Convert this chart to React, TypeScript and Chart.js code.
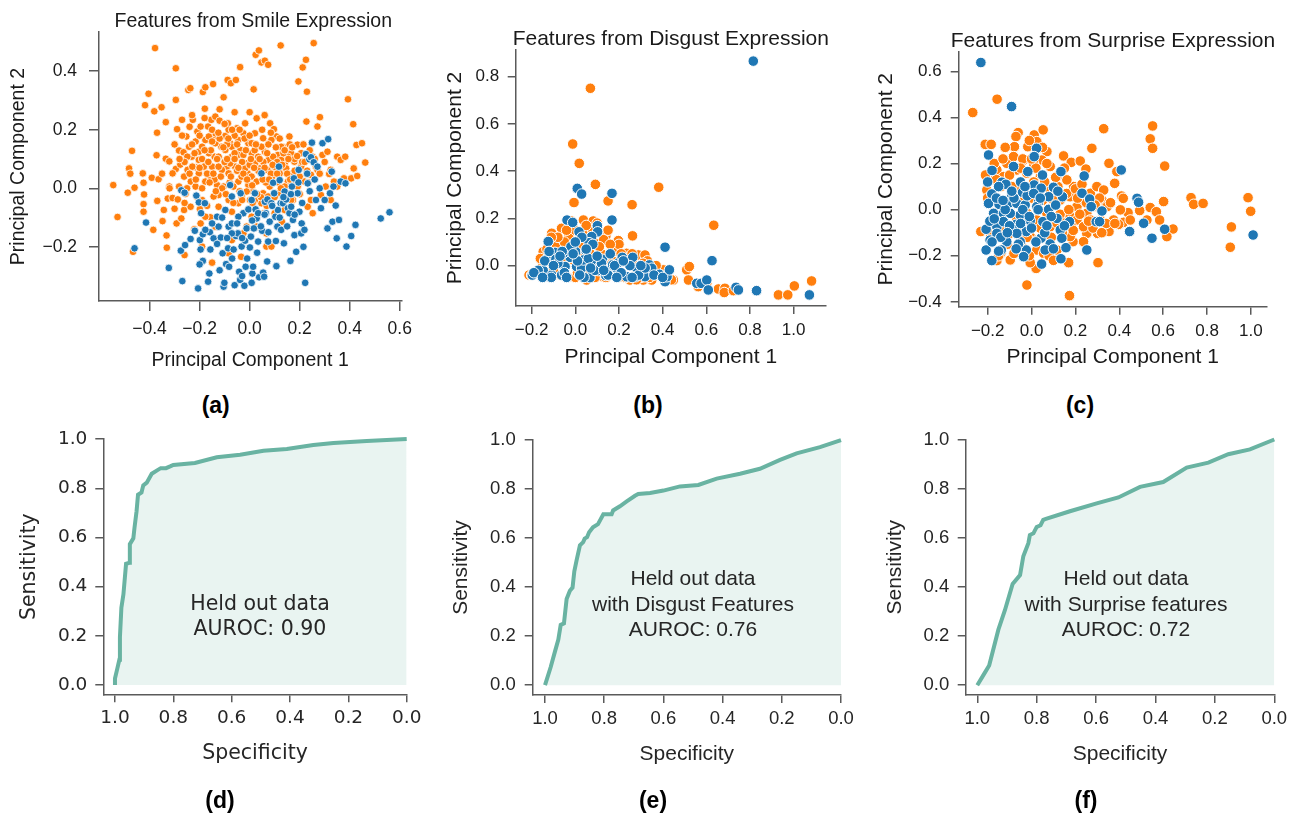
import React, { useEffect, useRef } from "react";
import { Chart, registerables } from "chart.js";

Chart.register(...registerables);

// ---------------- DATA ----------------
// (a) Features from Smile Expression
const smileOrange: [number, number][] = [
  [-0.545, 0.011], [-0.528, -0.098], [-0.487, -0.015], [-0.482, 0.068], [-0.477, 0.05], [-0.47, 0.128], [-0.466, -0.217], [-0.46, 0.002],
  [-0.427, 0.051], [-0.424, 0.019], [-0.422, -0.021], [-0.424, -0.054], [-0.424, -0.08], [-0.418, 0.284], [-0.404, 0.323], [-0.391, 0.036],
  [-0.385, -0.142], [-0.381, 0.263], [-0.378, 0.479], [-0.372, 0.113], [-0.37, 0.19], [-0.369, -0.043], [-0.364, 0.031], [-0.352, 0.277],
  [-0.348, -0.112], [-0.343, -0.074], [-0.335, 0.226], [-0.335, 0.101], [-0.332, -0.161], [-0.331, -0.203], [-0.327, -0.035], [-0.321, 0.092],
  [-0.308, -0.033], [-0.295, 0.41], [-0.295, 0.302], [-0.295, 0.066], [-0.292, -0.12], [-0.29, 0.202], [-0.287, -0.038], [-0.282, 0.129],
  [-0.277, 0.081], [-0.273, -0.103], [-0.27, 0.234], [-0.264, 0.123], [-0.262, -0.074], [-0.26, -0.228], [-0.256, -0.019], [-0.253, 0.177],
  [-0.248, 0.063], [-0.245, 0.336], [-0.242, 0.142], [-0.237, 0.342], [-0.235, 0.023], [-0.231, 0.108], [-0.227, 0.234], [-0.221, -0.14],
  [-0.216, 0.16], [-0.213, 0.071], [-0.209, 0.194], [-0.203, 0.125], [-0.199, -0.071], [-0.196, -0.12], [-0.19, -0.199], [-0.187, 0.329],
  [-0.179, 0.272], [-0.177, 0.345], [-0.177, 0.165], [-0.17, 0.088], [-0.166, 0.211], [-0.163, 0.028], [-0.157, -0.099], [-0.153, 0.234],
  [-0.15, -0.254], [-0.146, 0.356], [-0.144, 0.177], [-0.14, 0.108], [-0.137, 0.245], [-0.13, 0.011], [-0.124, -0.023], [-0.12, 0.231],
  [-0.113, 0.142], [-0.104, 0.311], [-0.097, 0.179], [-0.091, 0.074], [-0.088, 0.37], [-0.087, 0.222], [-0.084, -0.222], [-0.078, 0.154],
  [-0.075, 0.359], [-0.071, 0.108], [-0.055, 0.37], [-0.051, 0.205], [-0.045, 0.023], [-0.038, 0.414], [-0.037, 0.131], [-0.034, -0.234],
  [-0.025, 0.188], [-0.018, 0.222], [-0.012, 0.085], [-0.008, 0.051], [-0.005, 0.154], [0.001, -0.04], [0.008, 0.12], [0.016, 0.338],
  [0.021, 0.188], [0.024, 0.456], [0.028, 0.239], [0.037, 0.471], [0.041, 0.068], [0.047, 0.43], [0.054, 0.171], [0.058, -0.085],
  [0.061, 0.436], [0.067, -0.199], [0.074, 0.422], [0.076, 0.097], [0.082, 0.222], [0.087, -0.199], [0.09, 0.04], [0.097, 0.202],
  [0.107, 0.177], [0.113, 0.114], [0.124, 0.488], [0.129, -0.114], [0.133, 0.142], [0.14, 0.085], [0.153, 0.023], [0.159, 0.177],
  [0.166, 0.12], [0.173, 0.051], [0.179, 0.091], [0.191, 0.149], [0.195, 0.365], [0.206, 0.074], [0.212, 0.413], [0.225, 0.439],
  [0.227, 0.228], [0.229, 0.33], [0.232, -0.063], [0.245, 0.046], [0.252, -0.085], [0.256, 0.496], [0.265, 0.074], [0.271, 0.211],
  [0.281, 0.243], [0.285, -0.023], [0.291, 0.114], [0.304, 0.006], [0.311, 0.125], [0.318, 0.049], [0.324, -0.04], [0.337, 0.023],
  [0.35, 0.108], [0.364, 0.097], [0.382, 0.108], [0.393, 0.304], [0.377, 0.034], [0.406, 0.034], [0.414, 0.219], [0.416, 0.068],
  [0.427, 0.148], [0.43, 0.042], [0.449, 0.154], [0.462, 0.088], [0.206, 0.12], [0.252, 0.108], [0.271, 0.063], [0.324, 0.063], [0.35, 0.006],
  [-0.203, 0.097], [-0.183, 0.074], [-0.163, 0.12], [-0.15, 0.074], [-0.137, 0.154], [-0.124, 0.108], [-0.111, 0.063], [-0.097, 0.131],
  [-0.084, 0.051], [-0.071, 0.142], [-0.065, 0.006], [-0.058, 0.074], [-0.045, 0.114], [-0.032, 0.04], [-0.018, 0.068], [-0.005, 0.011],
  [0.008, 0.04], [0.014, -0.011], [0.028, 0.023], [0.034, 0.108], [0.047, 0.051], [0.054, -0.017], [0.061, 0.125], [0.071, 0.063],
  [0.08, 0.006], [0.094, 0.108], [0.1, 0.074], [0.12, 0.051], [0.126, 0.097], [0.146, 0.068], [0.166, 0.023], [0.186, 0.057],
  [-0.177, 0.023], [-0.144, -0.028], [-0.124, -0.063], [-0.104, 0.006], [-0.084, -0.04], [-0.071, -0.08], [-0.045, -0.051], [-0.025, -0.085],
  [-0.012, -0.131], [0.008, -0.097], [0.028, -0.131], [0.047, -0.051], [0.067, -0.154], [0.1, -0.085], [0.14, -0.074], [0.173, -0.04],
  [0.245, -0.04], [-0.216, 0.006], [-0.236, -0.063], [-0.19, -0.04], [-0.203, 0.051], [-0.229, 0.074], [-0.249, 0.108], [-0.262, 0.04],
  [-0.282, 0.006], [-0.308, 0.051], [-0.321, 0.006], [-0.177, -0.097], [-0.137, -0.131], [-0.071, -0.177], [-0.025, -0.154], [-0.137, 0.188],
  [-0.084, 0.2], [-0.045, 0.165], [0.008, 0.154], [0.047, 0.142], [0.087, 0.165], [0.126, 0.142], [0.153, 0.108], [-0.19, 0.142],
  [-0.163, 0.177], [-0.196, 0.211], [-0.124, 0.074], [-0.078, 0.085], [-0.025, 0.114], [0.021, 0.085], [-0.012, -0.011], [-0.032, -0.028],
  [0.021, -0.04], [0.074, -0.028], [0.113, -0.017], [0.14, 0.006], [0.192, 0.006], [0.219, 0.023], [0.166, -0.04],
  [-0.215, 0.03], [-0.19, 0.1], [-0.17, 0.05], [-0.155, 0.13], [-0.14, 0.03], [-0.12, 0.17], [-0.11, 0.0], [-0.1, 0.09],
  [-0.09, 0.15], [-0.08, 0.02], [-0.06, 0.12], [-0.05, 0.06], [-0.04, -0.01], [-0.03, 0.09], [-0.02, 0.17], [0.0, 0.08],
  [0.01, 0.01], [0.02, 0.13], [0.035, 0.06], [0.045, -0.03], [0.055, 0.09], [0.065, 0.02], [0.075, 0.15], [0.085, 0.05],
  [0.11, 0.09], [0.115, 0.02], [0.135, 0.12], [0.15, 0.05], [0.16, 0.15], [0.18, 0.1], [0.2, 0.04], [0.21, 0.09],
  [0.23, 0.06], [0.24, 0.13], [-0.23, 0.15], [-0.26, 0.09], [-0.2, 0.18], [-0.15, 0.2], [-0.1, 0.22], [-0.06, 0.18],
  [-0.25, 0.0], [-0.24, 0.05], [-0.22, 0.12], [-0.21, -0.03], [-0.2, 0.07], [-0.19, 0.0], [-0.18, 0.13], [-0.17, -0.06],
  [-0.165, 0.09], [-0.16, 0.02], [-0.15, 0.16], [-0.145, 0.05], [-0.135, -0.01], [-0.13, 0.1], [-0.125, 0.19], [-0.115, 0.04],
  [-0.105, 0.14], [-0.095, -0.02], [-0.09, 0.1], [-0.085, 0.17], [-0.075, 0.04], [-0.07, 0.2], [-0.065, -0.05], [-0.06, 0.1],
  [-0.05, 0.15], [-0.045, 0.07], [-0.04, 0.2], [-0.03, -0.04], [-0.025, 0.05], [-0.015, 0.13], [-0.01, 0.03], [0.0, 0.18],
  [0.005, 0.1], [0.012, -0.05], [0.018, 0.07], [0.025, 0.15], [0.03, -0.02], [0.04, 0.1], [0.05, 0.2], [0.052, 0.03],
  [0.06, 0.07], [0.068, -0.06], [0.07, 0.12], [0.078, 0.03], [0.085, 0.19], [0.092, 0.08], [0.1, -0.03], [0.105, 0.14],
  [0.11, 0.05], [0.12, 0.17], [0.125, 0.0], [0.13, 0.08], [0.14, 0.13], [0.145, -0.02], [0.155, 0.1], [0.162, 0.03],
  [0.17, 0.14], [0.18, 0.06], [0.19, 0.11], [0.2, -0.02], [0.215, 0.15], [0.22, 0.09], [0.235, 0.02], [0.26, 0.1],
  [0.28, 0.05], [0.3, 0.09], [-0.28, 0.1], [-0.3, 0.15], [-0.27, 0.18], [-0.24, 0.21], [-0.32, 0.0], [-0.35, 0.05],
  [-0.3, -0.07], [-0.26, -0.05], [-0.23, 0.25], [-0.18, 0.24], [-0.12, 0.27], [-0.06, 0.26], [0.0, 0.26], [0.06, 0.25],
];
const smileBlue: [number, number][] = [
  [-0.46, -0.205], [-0.414, -0.117], [-0.323, -0.272], [-0.273, -0.007], [-0.269, -0.317], [-0.275, -0.213], [-0.26, -0.015], [-0.258, -0.194],
  [-0.236, -0.173], [-0.219, -0.145], [-0.213, -0.025], [-0.206, -0.342], [-0.203, -0.048], [-0.199, -0.177], [-0.196, -0.209], [-0.194, -0.085],
  [-0.187, -0.157], [-0.187, -0.248], [-0.179, -0.051], [-0.166, -0.319], [-0.161, -0.291], [-0.159, -0.15], [-0.157, -0.209], [-0.144, -0.171],
  [-0.13, -0.097], [-0.124, -0.131], [-0.115, -0.168], [-0.108, -0.222], [-0.104, -0.336], [-0.101, -0.323], [-0.097, -0.074], [-0.094, -0.259],
  [-0.086, -0.205], [-0.084, -0.131], [-0.082, -0.268], [-0.078, 0.011], [-0.071, -0.028], [-0.064, -0.209], [-0.06, -0.331], [-0.055, -0.163],
  [-0.047, -0.154], [-0.042, -0.285], [-0.038, -0.313], [-0.036, -0.017], [-0.032, -0.199], [-0.025, -0.085], [-0.021, -0.333], [-0.018, -0.179],
  [-0.016, -0.268], [-0.012, -0.137], [-0.005, -0.072], [0.001, -0.202], [0.005, -0.165], [0.008, -0.323], [0.011, -0.291], [0.014, -0.268],
  [0.017, -0.137], [0.021, -0.017], [0.024, -0.072], [0.028, -0.103], [0.034, -0.182], [0.038, -0.304], [0.047, 0.051], [0.05, -0.145],
  [0.054, -0.288], [0.058, -0.302], [0.061, -0.046], [0.065, -0.085], [0.071, -0.038], [0.074, -0.182], [0.08, -0.114], [0.087, -0.051],
  [0.094, 0.019], [0.098, -0.017], [0.103, -0.097], [0.107, -0.266], [0.111, -0.131], [0.117, 0.074], [0.12, 0.028], [0.124, -0.051],
  [0.133, -0.051], [0.137, -0.188], [0.14, -0.011], [0.146, -0.038], [0.153, -0.068], [0.159, -0.085], [0.163, -0.248], [0.169, 0.006],
  [0.173, -0.108], [0.177, 0.034], [0.179, -0.16], [0.186, -0.217], [0.192, -0.017], [0.196, 0.063], [0.199, -0.08], [0.206, -0.154],
  [0.208, -0.12], [0.219, -0.142], [0.222, -0.323], [0.225, 0.117], [0.232, 0.017], [0.239, 0.099], [0.245, 0.106], [0.249, 0.156],
  [0.256, 0.089], [0.265, -0.04], [0.271, 0.074], [0.285, -0.068], [0.291, 0.154], [0.311, -0.137], [0.314, 0.168], [0.321, -0.017],
  [0.328, 0.057], [0.331, -0.114], [0.335, 0.006], [0.344, -0.059], [0.348, -0.171], [0.357, -0.108], [0.364, 0.023], [0.383, 0.017],
  [0.387, -0.199], [0.406, -0.163], [0.423, -0.125], [0.524, -0.103], [0.559, -0.082], [-0.071, -0.12], [-0.045, -0.097], [0.034, -0.085],
  [0.113, -0.074], [0.008, -0.04], [-0.177, -0.142], [-0.071, -0.154], [0.126, -0.142], [0.166, -0.063],
  [-0.15, -0.12], [-0.13, -0.19], [-0.11, -0.1], [-0.09, -0.17], [-0.07, -0.24], [-0.05, -0.12], [-0.03, -0.17], [-0.01, -0.24],
  [0.01, -0.11], [0.03, -0.22], [0.045, -0.13], [0.06, -0.09], [0.075, -0.15], [0.09, -0.06], [0.105, -0.18], [0.12, -0.1],
  [0.135, -0.03], [0.15, -0.13], [0.165, -0.02], [0.18, -0.09], [0.195, 0.02], [0.21, -0.05], [0.23, 0.05], [0.24, -0.01],
  [0.26, 0.03], [0.28, 0.0], [0.3, -0.04], [0.215, -0.2], [-0.2, -0.26], [-0.12, -0.28], [-0.03, -0.3], [0.07, -0.25],
];

// (b) Features from Disgust Expression
const disgustOrange: [number, number][] = [
  [0.069, 0.751], [-0.012, 0.515], [0.018, 0.433], [0.092, 0.344], [0.382, 0.332], [-0.006, 0.267], [0.15, 0.274], [0.26, 0.258],
  [0.037, 0.193], [0.082, 0.189], [0.262, 0.126], [0.197, 0.106], [0.634, 0.171], [0.14, 0.126], [0.098, 0.092], [-0.063, 0.158],
  [-0.108, 0.137], [-0.055, 0.102], [-0.147, 0.059], [0.052, 0.137], [0.166, 0.045], [0.235, 0.052], [0.289, 0.045], [0.319, 0.045],
  [0.182, -0.004], [0.22, -0.047], [0.311, -0.061], [0.35, -0.061], [0.403, -0.018], [0.449, -0.061], [0.51, -0.018], [0.522, -0.004],
  [0.518, -0.061], [0.563, -0.089], [0.602, -0.075], [0.655, -0.099], [0.685, -0.096], [0.682, -0.114], [0.724, -0.106], [0.93, -0.124],
  [0.973, -0.124], [1.003, -0.086], [1.082, -0.065], [-0.212, -0.04], [-0.177, -0.025], [-0.116, -0.032], [-0.04, -0.047], [0.052, -0.061],
  [0.128, -0.047], [0.25, -0.061], [-0.009, 0.024], [0.067, 0.052], [-0.131, 0.024], [-0.024, 0.066], [0.021, 0.109], [0.113, 0.024],
  [0.189, -0.032], [0.281, -0.032], [-0.085, 0.052],
  [-0.18, -0.03], [-0.15, 0.0], [-0.12, 0.03], [-0.09, 0.08], [-0.07, -0.04], [-0.03, 0.12], [0.0, -0.05], [0.02, 0.0],
  [0.04, 0.05], [0.06, -0.03], [0.08, 0.15], [0.1, 0.0], [0.12, 0.05], [0.14, -0.05], [0.17, 0.02], [0.19, 0.06],
  [0.22, -0.04], [0.24, 0.02], [0.27, 0.0], [0.3, -0.05], [0.33, 0.02], [0.36, -0.03], [0.39, -0.04], [0.42, -0.05],
  [0.05, 0.17], [-0.05, 0.1], [0.0, 0.15], [0.13, 0.11], [0.2, 0.09], [-0.02, 0.19],
  [-0.2, -0.04], [-0.16, 0.03], [-0.13, 0.07], [-0.1, -0.02], [-0.08, 0.12], [-0.06, 0.02], [-0.04, 0.15], [-0.01, 0.07],
  [0.01, -0.03], [0.03, 0.09], [0.05, 0.01], [0.07, 0.12], [0.09, -0.05], [0.11, 0.08], [0.13, 0.02], [0.16, 0.09],
  [0.18, -0.03], [0.21, 0.05], [0.23, -0.05], [0.26, 0.05], [0.28, -0.06], [0.31, 0.01], [0.34, -0.05], [0.37, 0.0],
  [0.44, -0.06], [0.15, 0.15], [0.1, 0.18], [-0.11, 0.12],
];
const disgustBlue: [number, number][] = [
  [0.815, 0.866], [0.009, 0.327], [0.029, 0.303], [0.168, 0.306], [0.168, 0.193], [-0.038, 0.193], [-0.012, 0.183], [0.017, 0.143],
  [0.101, 0.169], [0.102, 0.143], [0.075, 0.123], [0.063, 0.097], [-0.124, 0.102], [0.002, 0.059], [0.049, 0.063], [-0.093, 0.056],
  [0.411, 0.078], [0.626, 0.021], [-0.131, 0.027], [-0.089, 0.027], [-0.024, 0.035], [0.087, 0.017], [0.124, 0.027], [0.2, 0.013],
  [0.215, 0.035], [0.263, 0.035], [0.281, -0.011], [0.339, 0.003], [-0.197, -0.04], [-0.147, -0.021], [-0.108, -0.04], [-0.063, -0.04],
  [-0.047, -0.004], [0.006, -0.004], [0.029, -0.011], [0.067, -0.051], [0.105, -0.021], [0.14, -0.042], [0.159, -0.032], [0.171, 0.003],
  [0.235, -0.047], [0.276, -0.047], [0.319, -0.047], [0.35, -0.011], [0.385, -0.037], [0.411, -0.068], [0.42, -0.047], [0.431, -0.018],
  [0.556, -0.075], [0.576, -0.075], [0.602, -0.061], [0.609, -0.103], [0.736, -0.092], [0.747, -0.103], [0.83, -0.106], [1.072, -0.124],
  [-0.055, 0.052], [0.037, 0.024], [0.113, -0.004], [0.189, -0.011],
  [-0.17, -0.02], [-0.14, 0.02], [-0.11, -0.05], [-0.08, 0.01], [-0.05, -0.03], [-0.02, 0.08], [0.01, 0.02], [0.04, -0.05],
  [0.06, 0.03], [0.09, -0.02], [0.12, 0.01], [0.15, -0.04], [0.18, 0.0], [0.21, -0.03], [0.25, 0.0], [0.29, -0.04],
  [0.32, -0.01], [0.03, 0.12], [0.08, 0.09], [-0.06, 0.06],
  [-0.19, -0.03], [-0.15, -0.05], [-0.12, 0.06], [-0.1, 0.0], [-0.07, 0.04], [-0.04, -0.05], [-0.01, 0.05], [0.02, -0.04],
  [0.05, 0.07], [0.07, -0.01], [0.1, 0.04], [0.13, -0.02], [0.16, 0.05], [0.19, -0.05], [0.22, 0.02], [0.26, -0.05],
  [0.3, 0.0], [0.36, -0.04], [0.4, -0.05], [0.0, 0.1],
];

// (c) Features from Surprise Expression
const surpriseOrange: [number, number][] = [
  [-0.268, 0.421], [-0.157, 0.479], [-0.211, 0.283], [-0.184, 0.283], [-0.061, 0.334], [-0.071, 0.317], [-0.078, 0.273], [0.012, 0.324],
  [0.053, 0.346], [0.329, 0.351], [0.552, 0.363], [0.541, 0.307], [0.552, 0.266], [0.275, 0.266], [-0.017, 0.273], [0.024, 0.295],
  [0.07, 0.252], [0.146, 0.233], [0.181, 0.205], [0.222, 0.211], [0.248, 0.176], [0.353, 0.201], [0.607, 0.189], [0.389, 0.165],
  [0.379, 0.114], [0.321, 0.042], [0.41, 0.059], [0.418, 0.049], [0.602, 0.035], [0.493, -0.004], [0.541, 0.009], [0.569, -0.009],
  [0.584, -0.045], [0.526, -0.045], [0.44, -0.013], [0.42, -0.055], [0.397, -0.064], [0.353, -0.095], [0.301, -0.103], [0.252, -0.103],
  [0.237, -0.139], [0.189, -0.139], [0.169, -0.23], [0.303, -0.23], [0.645, -0.084], [0.617, -0.117], [0.727, 0.052], [0.739, 0.023],
  [0.782, 0.027], [0.987, 0.052], [0.999, -0.007], [0.911, -0.075], [0.906, -0.163], [-0.021, -0.327], [0.173, -0.373], [0.021, -0.255],
  [-0.006, -0.23], [-0.097, -0.218], [-0.158, -0.221], [-0.231, -0.095], [-0.189, -0.132], [-0.14, -0.189], [-0.1, -0.103], [-0.044, -0.161],
  [0.024, -0.175], [0.055, -0.117], [0.085, -0.074], [0.131, -0.045], [0.176, -0.03], [0.207, 0.013], [0.237, 0.042], [0.268, 0.071],
  [0.298, 0.1], [0.329, 0.085], [0.192, 0.1], [0.161, 0.129], [0.116, 0.143], [0.085, 0.187], [0.047, 0.215], [0.009, 0.201],
  [-0.037, 0.215], [-0.067, 0.172], [-0.113, 0.201], [-0.158, 0.172], [-0.189, 0.129], [-0.204, 0.085], [-0.128, 0.143], [-0.082, 0.1],
  [-0.021, 0.158], [0.04, 0.143], [0.085, 0.085], [0.131, 0.042], [0.176, 0.056], [0.207, -0.045], [0.252, -0.016], [0.298, 0.013],
  [0.344, 0.013], [0.116, -0.059], [0.07, -0.016], [0.024, -0.045], [-0.021, -0.016], [-0.067, -0.045], [-0.006, -0.117], [0.055, -0.189],
  [0.116, -0.175], [0.176, -0.117], [0.237, -0.074], [0.268, -0.045], [0.313, -0.045], [0.374, -0.045], [0.405, -0.001], [0.45, -0.045],
  [-0.082, 0.23],
  [-0.2, 0.05], [-0.17, 0.2], [-0.14, 0.1], [-0.12, -0.08], [-0.1, 0.15], [-0.08, -0.19], [-0.06, 0.08], [-0.04, 0.22],
  [-0.02, -0.12], [0.0, 0.05], [0.02, 0.18], [0.04, -0.08], [0.06, 0.12], [0.08, -0.2], [0.1, 0.04], [0.12, 0.1],
  [0.14, -0.1], [0.16, 0.07], [0.18, -0.07], [0.2, 0.09], [0.22, -0.02], [0.25, 0.03], [0.28, -0.08], [0.31, 0.05],
  [0.34, -0.06], [-0.15, -0.2], [0.05, 0.27], [-0.01, 0.3],
  [-0.21, 0.15], [-0.19, -0.1], [-0.16, 0.13], [-0.13, 0.22], [-0.11, -0.15], [-0.09, 0.1], [-0.07, -0.08], [-0.05, 0.18],
  [-0.03, 0.05], [-0.01, -0.2], [0.01, 0.12], [0.03, -0.13], [0.05, 0.04], [0.07, 0.2], [0.09, -0.12], [0.11, 0.14],
  [0.13, -0.02], [0.15, 0.18], [0.17, 0.0], [0.19, -0.09], [0.21, 0.05], [0.23, 0.11], [0.26, -0.05], [0.29, 0.02],
  [0.32, -0.1], [0.36, 0.03], [0.38, -0.06], [0.0, 0.22], [-0.12, 0.27], [0.1, -0.22],
];
const surpriseBlue: [number, number][] = [
  [-0.231, 0.638], [-0.091, 0.447], [0.023, 0.266], [0.012, 0.23], [-0.196, 0.237], [-0.082, 0.187], [-0.017, 0.165], [0.134, 0.165],
  [0.24, 0.146], [0.409, 0.172], [-0.135, 0.119], [-0.117, 0.11], [-0.181, 0.068], [-0.09, 0.064], [-0.041, 0.075], [0.012, 0.107],
  [0.044, 0.093], [0.1, 0.097], [0.078, 0.056], [0.141, 0.056], [0.23, 0.071], [0.265, 0.046], [-0.196, 0.027], [-0.148, 0.023],
  [-0.105, 0.027], [-0.067, 0.027], [-0.029, 0.02], [0.032, 0.032], [0.078, 0.001], [0.272, 0.013], [0.321, -0.006], [0.481, 0.049],
  [0.488, 0.032], [-0.173, -0.016], [-0.128, -0.016], [-0.052, -0.023], [-0.006, -0.048], [0.052, -0.052], [0.116, -0.038], [0.173, -0.052],
  [0.295, -0.052], [0.31, -0.052], [0.511, -0.059], [-0.207, -0.085], [-0.158, -0.074], [-0.128, -0.052], [-0.071, -0.064], [-0.024, -0.095],
  [0.131, -0.088], [0.043, -0.124], [0.085, -0.149], [-0.189, -0.132], [-0.113, -0.139], [-0.052, -0.139], [0.062, -0.175], [0.138, -0.124],
  [0.157, -0.165], [0.447, -0.095], [0.549, -0.124], [0.607, -0.085], [1.01, -0.11], [-0.207, -0.175], [-0.138, -0.175], [-0.024, -0.175],
  [-0.036, -0.204], [-0.181, -0.221], [0.046, -0.236], [0.134, -0.213], [0.252, -0.175], [-0.067, -0.103], [-0.158, -0.103], [-0.097, -0.016],
  [0.024, 0.013],
  [-0.19, -0.05], [-0.16, 0.05], [-0.14, -0.12], [-0.12, 0.0], [-0.1, -0.07], [-0.08, 0.05], [-0.06, -0.15], [-0.04, 0.0],
  [-0.02, 0.06], [0.0, -0.08], [0.03, 0.0], [0.06, -0.1], [0.09, -0.03], [0.11, 0.02], [-0.15, 0.1], [-0.05, 0.12],
  [0.05, 0.15], [-0.18, -0.14],
  [-0.2, 0.12], [-0.17, -0.04], [-0.15, -0.18], [-0.13, 0.04], [-0.11, -0.1], [-0.09, 0.08], [-0.07, -0.17], [-0.05, -0.06],
  [-0.03, 0.1], [-0.01, -0.03], [0.01, 0.07], [0.02, -0.14], [0.04, 0.05], [0.07, -0.07], [0.1, -0.17], [0.12, 0.08],
  [0.15, -0.07], [-0.18, 0.17],
];

// (d)(e)(f) ROC curves: specificity (x) and sensitivity (y)
const rocSmileSpec = [1.0, 1.0, 0.992, 0.985, 0.983, 0.978, 0.971, 0.962, 0.951, 0.949, 0.937, 0.933, 0.926, 0.921, 0.909, 0.903, 0.891, 0.874, 0.857, 0.843, 0.825, 0.809, 0.8, 0.726, 0.651, 0.571, 0.491, 0.411, 0.32, 0.251, 0.137, 0.0];
const rocSmileSens = [0.0, 0.027, 0.067, 0.103, 0.195, 0.315, 0.369, 0.493, 0.497, 0.573, 0.597, 0.64, 0.707, 0.774, 0.783, 0.812, 0.823, 0.859, 0.872, 0.882, 0.882, 0.89, 0.895, 0.903, 0.926, 0.936, 0.953, 0.96, 0.976, 0.984, 0.992, 1.0];
const rocDisgustSpec = [1.0, 0.981, 0.966, 0.955, 0.947, 0.936, 0.927, 0.916, 0.907, 0.901, 0.893, 0.882, 0.871, 0.866, 0.858, 0.851, 0.838, 0.821, 0.803, 0.775, 0.77, 0.747, 0.724, 0.696, 0.685, 0.645, 0.6, 0.544, 0.482, 0.42, 0.341, 0.274, 0.206, 0.15, 0.071, 0.0];
const rocDisgustSens = [0.0, 0.073, 0.139, 0.186, 0.246, 0.252, 0.352, 0.385, 0.398, 0.465, 0.511, 0.571, 0.584, 0.598, 0.604, 0.624, 0.644, 0.657, 0.697, 0.697, 0.713, 0.73, 0.75, 0.773, 0.78, 0.784, 0.794, 0.811, 0.817, 0.843, 0.863, 0.883, 0.919, 0.946, 0.971, 1.0];
const rocSurpriseSpec = [1.0, 0.98, 0.96, 0.929, 0.907, 0.881, 0.856, 0.845, 0.828, 0.823, 0.811, 0.8, 0.787, 0.778, 0.769, 0.688, 0.598, 0.525, 0.452, 0.374, 0.295, 0.222, 0.155, 0.082, 0.0];
const rocSurpriseSens = [0.0, 0.04, 0.08, 0.226, 0.305, 0.412, 0.448, 0.525, 0.578, 0.611, 0.618, 0.644, 0.651, 0.673, 0.677, 0.708, 0.74, 0.764, 0.807, 0.827, 0.886, 0.906, 0.94, 0.96, 1.0];

// tick values
const smileXTicks = [-0.4, -0.2, 0, 0.2, 0.4, 0.6];
const smileYTicks = [-0.2, 0, 0.2, 0.4];
const disgustXTicks = [-0.2, 0, 0.2, 0.4, 0.6, 0.8, 1.0];
const disgustYTicks = [0, 0.2, 0.4, 0.6, 0.8];
const surpriseXTicks = [-0.2, 0, 0.2, 0.4, 0.6, 0.8, 1.0];
const surpriseYTicks = [-0.4, -0.2, 0, 0.2, 0.4, 0.6];
const rocTicks = [0, 0.2, 0.4, 0.6, 0.8, 1.0];

// ---------------- STYLE ----------------
const BLUE = "#1f77b4";
const ORANGE = "#ff7f0e";
const ROC_LINE = "#69b3a2";
const ROC_FILL = "rgba(105,179,162,0.15)";
const SPINE = "#5a5a5a";
const SANS = '"Liberation Sans", Arial, Helvetica, sans-serif';
const DEJAVU = '"DejaVu Sans", sans-serif';

const fmt = (v: number) => {
  const s = Number(v).toFixed(1);
  return s.startsWith("-") ? "\u2212" + s.slice(1) : s;
};

function axis(o: any) {
  return {
    type: "linear",
    position: o.horizontal ? "bottom" : "left",
    min: o.min,
    max: o.max,
    reverse: !!o.reverse,
    border: { display: true, color: SPINE, width: 1.5 },
    grid: {
      display: true,
      drawOnChartArea: false,
      drawTicks: true,
      tickLength: o.tickLen,
      tickWidth: 1.5,
      tickColor: SPINE,
      color: SPINE,
      lineWidth: 1.5,
    },
    ticks: {
      autoSkip: false,
      maxRotation: 0,
      minRotation: 0,
      padding: o.tickPad,
      color: o.color,
      font: { family: o.family, size: o.tickSize },
      callback: (v: number) => fmt(v),
    },
    afterBuildTicks: (s: any) => {
      s.ticks = o.ticks.map((value: number) => ({ value }));
    },
    afterFit: (s: any) => {
      if (o.horizontal) s.height = o.size;
      else s.width = o.size;
    },
    title: {
      display: true,
      text: o.title,
      color: o.color,
      font: { family: o.family, size: o.titleSize },
      padding: o.horizontal ? { top: 0, bottom: o.titlePad } : { top: o.titlePad, bottom: 0 },
    },
  };
}

const baseOptions = (pad: any, x: any, y: any) => ({
  responsive: false,
  animation: false,
  events: [],
  layout: { padding: pad, autoPadding: false },
  plugins: { legend: { display: false }, tooltip: { enabled: false }, title: { display: false } },
  scales: { x, y },
});

const toXY = (arr: [number, number][]) => arr.map(([x, y]) => ({ x, y }));
const zipXY = (xs: number[], ys: number[]) => xs.map((x, i) => ({ x, y: ys[i] }));

function scatterConfig(p: any) {
  const ds = (data: [number, number][], color: string) => ({
    data: toXY(data),
    backgroundColor: color,
    borderColor: "#ffffff",
    borderWidth: p.bw,
    pointRadius: p.r,
    pointHoverRadius: p.r,
  });
  return {
    type: "scatter",
    data: { datasets: [ds(p.blue, BLUE), ds(p.orange, ORANGE)] },
    options: baseOptions(
      { top: p.padTop, right: p.padRight, left: 0, bottom: 0 },
      axis({ horizontal: true, min: p.xMin, max: p.xMax, ticks: p.xTicks, size: p.xH, tickLen: p.tickLen, tickPad: p.xPad, tickSize: p.tickSize, family: SANS, color: "#1a1a1a", title: "Principal Component 1", titleSize: p.titleSize, titlePad: p.xTitlePad }),
      axis({ horizontal: false, min: p.yMin, max: p.yMax, ticks: p.yTicks, size: p.yW, tickLen: p.tickLen, tickPad: p.yPad, tickSize: p.tickSize, family: SANS, color: "#1a1a1a", title: "Principal Component 2", titleSize: p.titleSize, titlePad: p.yTitlePad })
    ),
  };
}

function rocConfig(p: any) {
  return {
    type: "scatter",
    data: {
      datasets: [
        {
          data: zipXY(p.spec, p.sens),
          showLine: true,
          borderColor: ROC_LINE,
          borderWidth: 4,
          backgroundColor: ROC_FILL,
          fill: "origin",
          pointRadius: 0,
          tension: 0,
          clip: false,
        },
      ],
    },
    options: baseOptions(
      { top: p.padTop, right: p.padRight, left: 0, bottom: 0 },
      axis({ horizontal: true, reverse: true, min: 0, max: p.xMax, ticks: rocTicks, size: p.xH, tickLen: 8, tickPad: p.xPad, tickSize: p.tickSize, family: p.family, color: "#262626", title: "Specificity", titleSize: p.titleSize, titlePad: p.xTitlePad }),
      axis({ horizontal: false, min: p.yMin, max: 1.0, ticks: rocTicks, size: p.yW, tickLen: 8, tickPad: p.yPad, tickSize: p.tickSize, family: p.family, color: "#262626", title: "Sensitivity", titleSize: p.titleSize, titlePad: p.yTitlePad })
    ),
  };
}

function ChartBox({ left, top, width, height, make }: any) {
  const ref = useRef<HTMLCanvasElement>(null);
  useEffect(() => {
    const chart = new Chart(ref.current as HTMLCanvasElement, make() as any);
    return () => chart.destroy();
  }, []);
  return (
    <canvas
      ref={ref}
      width={width}
      height={height}
      style={{ position: "absolute", left, top, width, height }}
    />
  );
}

function Label({ x, y, text, size, family, bold, color, lh }: any) {
  const lines = Array.isArray(text) ? text : [text];
  return (
    <div
      style={{
        position: "absolute",
        left: x,
        top: y,
        transform: "translate(-50%, -50%)",
        fontFamily: family,
        fontSize: size,
        fontWeight: bold ? "bold" : "normal",
        color: color || "#1a1a1a",
        lineHeight: (lh || size) + "px",
        whiteSpace: "nowrap",
        textAlign: "center",
      }}
    >
      {lines.map((l: string, i: number) => (
        <div key={i}>{l}</div>
      ))}
    </div>
  );
}

export default function App() {
  return (
    <div style={{ position: "absolute", left: 0, top: 0, width: 1296, height: 815, background: "#ffffff", overflow: "hidden" }}>
      <ChartBox
        left={0} top={0} width={420} height={385}
        make={() => scatterConfig({
          orange: smileOrange, blue: smileBlue, r: 3.8, bw: 0.8,
          padTop: 32, padRight: 15, yW: 99, xH: 84,
          xMin: -0.602, xMax: 0.606, yMin: -0.385, yMax: 0.534,
          xTicks: smileXTicks, yTicks: smileYTicks,
          tickLen: 10, xPad: 8, yPad: 12, tickSize: 17.5, titleSize: 19.5,
          xTitlePad: 13, yTitlePad: 7,
        })}
      />
      <ChartBox
        left={430} top={0} width={430} height={385}
        make={() => scatterConfig({
          orange: disgustOrange, blue: disgustBlue, r: 5.3, bw: 1,
          padTop: 50, padRight: 34, yW: 85.7, xH: 79,
          xMin: -0.273, xMax: 1.148, yMin: -0.171, yMax: 0.913,
          xTicks: disgustXTicks, yTicks: disgustYTicks,
          tickLen: 8, xPad: 6, yPad: 8.5, tickSize: 17, titleSize: 21,
          xTitlePad: 15.5, yTitlePad: 12.4,
        })}
      />
      <ChartBox
        left={870} top={0} width={426} height={385}
        make={() => scatterConfig({
          orange: surpriseOrange, blue: surpriseBlue, r: 5.3, bw: 1,
          padTop: 51.7, padRight: 29.3, yW: 88.7, xH: 78.3,
          xMin: -0.332, xMax: 1.072, yMin: -0.421, yMax: 0.685,
          xTicks: surpriseXTicks, yTicks: surpriseYTicks,
          tickLen: 8, xPad: 6, yPad: 9, tickSize: 17, titleSize: 21,
          xTitlePad: 15.5, yTitlePad: 4,
        })}
      />
      <ChartBox
        left={0} top={420} width={430} height={395}
        make={() => rocConfig({
          spec: rocSmileSpec, sens: rocSmileSens, family: DEJAVU, tickSize: 18.5,
          padTop: 16.7, padRight: 23.3, yW: 103.3, xH: 120.7,
          xMax: 1.04, yMin: -0.0375, xPad: 5, yPad: 8,
          titleSize: 20.5, xTitlePad: 48.7, yTitlePad: 17.7,
        })}
      />
      <ChartBox
        left={430} top={420} width={430} height={395}
        make={() => rocConfig({
          spec: rocDisgustSpec, sens: rocDisgustSens, family: SANS, tickSize: 18.5,
          padTop: 14, padRight: 19, yW: 102.7, xH: 120,
          xMax: 1.0416, yMin: -0.04, xPad: 5, yPad: 9,
          titleSize: 21, xTitlePad: 48, yTitlePad: 19,
        })}
      />
      <ChartBox
        left={870} top={420} width={426} height={395}
        make={() => rocConfig({
          spec: rocSurpriseSpec, sens: rocSurpriseSens, family: SANS, tickSize: 18.5,
          padTop: 14, padRight: 21.7, yW: 95.7, xH: 120,
          xMax: 1.039, yMin: -0.04, xPad: 5, yPad: 8.4,
          titleSize: 21, xTitlePad: 48, yTitlePad: 12.4,
        })}
      />

      <Label x={253.3} y={20.7} text="Features from Smile Expression" size={19.5} family={SANS} />
      <Label x={670.8} y={37.3} text="Features from Disgust Expression" size={21} family={SANS} />
      <Label x={1113} y={39.3} text="Features from Surprise Expression" size={21} family={SANS} />

      <Label x={260} y={615.5} text={["Held out data", "AUROC: 0.90"]} size={20.5} lh={25} family={DEJAVU} color="#262626" />
      <Label x={693} y={603} text={["Held out data", "with Disgust Features", "AUROC: 0.76"]} size={21} lh={25.5} family={SANS} color="#262626" />
      <Label x={1126} y={603} text={["Held out data", "with Surprise features", "AUROC: 0.72"]} size={21} lh={25.5} family={SANS} color="#262626" />

      <Label x={215.7} y={405} text="(a)" size={23} bold family={SANS} color="#000" />
      <Label x={648} y={405} text="(b)" size={23} bold family={SANS} color="#000" />
      <Label x={1080} y={405} text="(c)" size={23} bold family={SANS} color="#000" />
      <Label x={220} y={800} text="(d)" size={23} bold family={SANS} color="#000" />
      <Label x={653} y={800} text="(e)" size={23} bold family={SANS} color="#000" />
      <Label x={1086} y={800} text="(f)" size={23} bold family={SANS} color="#000" />
    </div>
  );
}
